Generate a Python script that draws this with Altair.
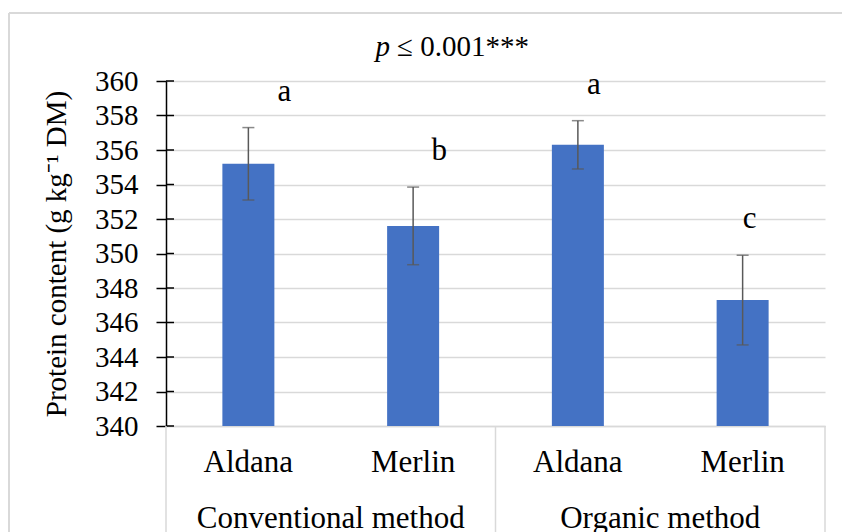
import altair as alt
import pandas as pd

# ---- data ----
methods = ["Conventional method", "Conventional method", "Organic method", "Organic method"]
varieties = ["Aldana", "Merlin", "Aldana", "Merlin"]
means = [355.2, 351.6, 356.3, 347.3]
errors = [2.1, 2.25, 1.4, 2.6]
letters = ["a", "b", "a", "c"]
group_names = ["Conventional method", "Organic method"]
y_ticks = [340, 342, 344, 346, 348, 350, 352, 354, 356, 358, 360]
title_p = "p"
title_rest = "≤ 0.001***"
y_title = "Protein content (g kg⁻¹ DM)"

keys = [f"{m}|{v}" for m, v in zip(methods, varieties)]
df = pd.DataFrame({
    "key": keys,
    "mean": means,
    "lo": [m - e for m, e in zip(means, errors)],
    "hi": [m + e for m, e in zip(means, errors)],
    "letter": letters,
})
groups_df = pd.DataFrame({"group": group_names,
                          "key": [f"{g}|Aldana" for g in group_names]})
ticks_df = pd.DataFrame({"v": y_ticks})

W, H = 659, 345
FONT = "Liberation Serif"
FS = 29
BAR = "#4472C4"
ERR = "#595959"
GRID = "#D9D9D9"

xscale = alt.Scale(domain=keys, paddingInner=0, paddingOuter=0)
yscale = alt.Scale(domain=[340, 360], nice=False, zero=False)

yaxis = alt.Axis(values=y_ticks, labelFont=FONT, labelFontSize=FS,
                 labelColor="black", labelPadding=18, tickSize=10,
                 tickColor="black", tickWidth=1.5, domainColor="black",
                 domainWidth=1.5, gridColor=GRID, gridWidth=1.5,
                 labelOverlap=False, labelFlush=False,
                 titleFont=FONT, titleFontSize=FS, titleFontWeight="normal",
                 titleColor="black", titlePadding=23)


def Y(field):
    return alt.Y(field, scale=yscale, title=y_title, axis=yaxis)


def X(field="key:N", **kw):
    return alt.X(field, scale=xscale, title=None, **kw)


bars = alt.Chart(df).mark_bar(color=BAR, size=52, clip=True).encode(
    x=alt.X("key:N", scale=xscale, title=None, sort=keys,
            axis=alt.Axis(labelExpr="split(datum.label, '|')[1]", labelAngle=0,
                          labelFont=FONT, labelFontSize=31, labelColor="black",
                          labelPadding=21, ticks=False, domainColor=GRID,
                          domainWidth=1.5)),
    y=Y("mean:Q"),
)

inner_ticks = alt.Chart(ticks_df).mark_rule(color="black", strokeWidth=1.5).encode(
    y=Y("v:Q"),
    x=alt.value(0), x2=alt.value(8),
)

err_rule = alt.Chart(df).mark_rule(color=ERR, strokeWidth=1.5).encode(
    x=X(), y=Y("lo:Q"), y2="hi:Q",
)
cap_lo = alt.Chart(df).mark_tick(color=ERR, size=12, thickness=1.5).encode(
    x=X(), y=Y("lo:Q"),
)
cap_hi = alt.Chart(df).mark_tick(color=ERR, size=12, thickness=1.5).encode(
    x=X(), y=Y("hi:Q"),
)

letter_dx = [36, 26, 16, 7]
letter_layers = []
for i, k in enumerate(keys):
    letter_layers.append(
        alt.Chart(df).transform_filter(alt.datum.key == k)
        .mark_text(font=FONT, fontSize=31, color="black", baseline="alphabetic",
                   dy=-27, dx=letter_dx[i])
        .encode(x=X(), y=Y("hi:Q"), text="letter:N")
    )

div_left = alt.Chart(groups_df).mark_rule(color=GRID, strokeWidth=1.5).encode(
    x=X(bandPosition=0),
    y=alt.value(H), y2=alt.value(H + 130),
)
div_right = alt.Chart(pd.DataFrame({"key": [keys[-1]]})).mark_rule(
    color=GRID, strokeWidth=1.5).encode(
    x=X(bandPosition=1),
    y=alt.value(H), y2=alt.value(H + 130),
)

group_text = alt.Chart(groups_df).mark_text(
    font=FONT, fontSize=31, color="black", baseline="alphabetic").encode(
    x=X(bandPosition=1),
    y=alt.value(H + 102),
    text="group:N",
)

one = pd.DataFrame({"t": [title_p], "u": [title_rest]})
t_p = alt.Chart(one).mark_text(font=FONT, fontSize=FS, fontStyle="italic",
                               color="black", align="right",
                               baseline="alphabetic").encode(
    text="t:N", x=alt.value(224), y=alt.value(-25))
t_rest = alt.Chart(one).mark_text(font=FONT, fontSize=FS, color="black",
                                  align="left", baseline="alphabetic", dx=7).encode(
    text="u:N", x=alt.value(224), y=alt.value(-25))

border_top = alt.Chart(one).mark_rule(color=GRID, strokeWidth=2).encode(
    x=alt.value(-157), x2=alt.value(W + 20), y=alt.value(-68))
border_left = alt.Chart(one).mark_rule(color=GRID, strokeWidth=2).encode(
    x=alt.value(-157), y=alt.value(-68), y2=alt.value(H + 130))

chart = alt.layer(
    border_top, border_left, bars, inner_ticks, err_rule, cap_lo, cap_hi,
    *letter_layers, div_left, div_right, group_text, t_p, t_rest,
).properties(
    width=W, height=H,
    autosize=alt.AutoSizeParams(type="none"),
    padding={"left": 158, "top": 73, "right": 17, "bottom": 106},
    background="white",
).configure_view(stroke=None)

chart.save("out.html", embed_options={"renderer": "svg", "actions": False})
